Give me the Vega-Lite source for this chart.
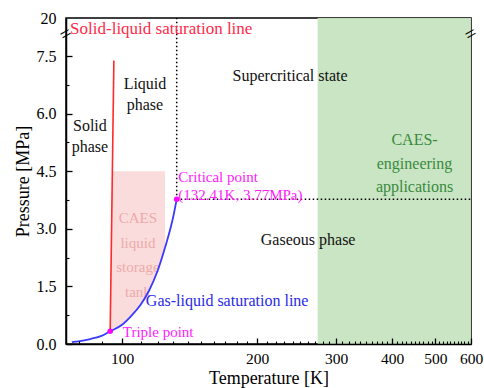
{
  "$schema": "https://vega.github.io/schema/vega-lite/v6.json",
  "width": 405,
  "height": 326,
  "autosize": {"type": "none"},
  "padding": {"left": 66, "top": 18, "right": 13, "bottom": 44},
  "background": "white",
  "config": {
    "font": "Liberation Serif",
    "view": {"stroke": "black", "strokeWidth": 1.5, "fill": "transparent"},
    "axis": {
      "grid": false,
      "domainColor": "black",
      "domainWidth": 1.5,
      "tickColor": "black",
      "tickWidth": 1.2,
      "labelFont": "Liberation Serif",
      "labelFontSize": 16,
      "labelColor": "black",
      "titleFont": "Liberation Serif",
      "titleFontSize": 18,
      "titleFontWeight": "normal",
      "titleColor": "black"
    },
    "text": {"font": "Liberation Serif", "fontSize": 16}
  },
  "datasets": {
    "caes_engineering": [{"T": 273, "T2": 600, "P": 0, "P2": 20}],
    "liquid_tank": [
      {"P": 0.33, "T": 94.1, "T2": 94.1},
      {"P": 0.5, "T": 94.14, "T2": 100},
      {"P": 0.74, "T": 94.2, "T2": 105},
      {"P": 1.02, "T": 94.28, "T2": 110},
      {"P": 1.4, "T": 94.37, "T2": 115},
      {"P": 1.9, "T": 94.5, "T2": 120},
      {"P": 2.5, "T": 94.65, "T2": 124.7},
      {"P": 4.5, "T": 95.15, "T2": 124.7}
    ],
    "critical_isotherm": [{"T": 132.41, "P": 3.77, "P2": 20}],
    "critical_isobar": [{"T": 132.41, "T2": 600, "P": 3.77}],
    "solid_liquid": [
      {"T": 94.1, "P": 0.33},
      {"T": 95.9, "P": 7.38}
    ],
    "gas_liquid": [
      {"T": 77.3, "P": 0.05},
      {"T": 80, "P": 0.07},
      {"T": 85, "P": 0.13},
      {"T": 90, "P": 0.21},
      {"T": 94.1, "P": 0.33},
      {"T": 100, "P": 0.5},
      {"T": 105, "P": 0.74},
      {"T": 110, "P": 1.02},
      {"T": 115, "P": 1.4},
      {"T": 120, "P": 1.9},
      {"T": 125, "P": 2.55},
      {"T": 130, "P": 3.3},
      {"T": 132.41, "P": 3.77}
    ],
    "special_points": [
      {"name": "triple", "T": 94.1, "P": 0.33},
      {"name": "critical", "T": 132.41, "P": 3.77}
    ],
    "phase_labels": [
      {"T": 84.8, "P": 5.69, "label": "Solid\nphase"},
      {"T": 112.5, "P": 6.76, "label": "Liquid\nphase"},
      {"T": 237, "P": 6.99, "label": "Supercritical state"},
      {"T": 260, "P": 2.7, "label": "Gaseous phase"}
    ],
    "solid_liquid_label": [{"T": 76.6, "P": 16.4, "label": "Solid-liquid saturation line"}],
    "gas_liquid_label": [{"T": 113, "P": 1.12, "label": "Gas-liquid saturation line"}],
    "point_labels": [
      {"T": 133.5, "P": 4.34, "label": "Critical point\n(132.41K, 3.77MPa)"},
      {"T": 100.4, "P": 0.31, "label": "Triple point"}
    ],
    "caes_label": [{"T": 449, "P": 5.3, "label": "CAES-\nengineering\napplications"}],
    "tank_label": [{"T": 108.5, "P": 3.28, "label": "CAES\nliquid\nstorage\ntank"}],
    "axis_breaks": [
      {"T": 75, "P": 14.7},
      {"T": 600, "P": 14.7}
    ]
  },
  "resolve": {"axis": {"x": "independent", "y": "independent"}},
  "layer": [
    {
      "encoding": {
        "x": {
          "field": "T",
          "type": "quantitative",
          "scale": {"type": "log", "domain": [75, 600], "nice": false},
          "axis": {
            "orient": "bottom",
            "zindex": 3,
            "title": "Temperature [K]",
            "values": [100, 200, 300, 400, 500, 600],
            "format": "d",
            "ticks": false,
            "labelPadding": 7,
            "labelFontSize": 15.5,
            "labelOverlap": false,
            "labelFlush": false,
            "titleBaseline": "bottom",
            "titleY": 43
          }
        },
        "y": {
          "field": "P",
          "type": "quantitative",
          "scale": {"domain": [0, 7.5, 20], "range": [326, 38, 0], "nice": false, "zero": false},
          "axis": {
            "orient": "left",
            "zindex": 3,
            "title": "Pressure [MPa]",
            "values": [0, 1.5, 3, 4.5, 6, 7.5, 20],
            "labelExpr": "datum.value === 20 ? '20' : format(datum.value, '.1f')",
            "ticks": false,
            "labelPadding": 10,
            "labelOverlap": false,
            "labelFlush": false,
            "titlePadding": 4
          }
        }
      },
      "layer": [
        {
          "data": {"name": "caes_engineering"},
          "mark": {"type": "rect", "fill": "#c6e4c0", "opacity": 0.95},
          "encoding": {"x2": {"field": "T2"}, "y2": {"field": "P2"}}
        },
        {
          "data": {"name": "liquid_tank"},
          "mark": {"type": "area", "orient": "horizontal", "fill": "#f6c4c4", "opacity": 0.6},
          "encoding": {"x2": {"field": "T2"}}
        },
        {
          "data": {"name": "tank_label"},
          "mark": {"type": "text", "font": "Liberation Serif", "align": "center", "baseline": "middle", "lineBreak": "\n", "lineHeight": 24.5, "fontSize": 15, "color": "#e89a9a", "opacity": 0.75},
          "encoding": {"text": {"field": "label"}}
        },
        {
          "data": {"name": "critical_isotherm"},
          "mark": {"type": "rule", "color": "black", "strokeWidth": 1.5, "strokeDash": [1.5, 2.5]},
          "encoding": {"y2": {"field": "P2"}}
        },
        {
          "data": {"name": "critical_isobar"},
          "mark": {"type": "rule", "color": "black", "strokeWidth": 1.5, "strokeDash": [1.5, 2.5]},
          "encoding": {"x2": {"field": "T2"}}
        },
        {
          "data": {"name": "solid_liquid"},
          "mark": {"type": "line", "color": "#ff2a2a", "strokeWidth": 1.6},
          "encoding": {"order": {"field": "P"}}
        },
        {
          "data": {"name": "gas_liquid"},
          "mark": {"type": "line", "color": "#3a3aff", "strokeWidth": 1.8, "interpolate": "monotone"},
          "encoding": {}
        },
        {
          "data": {"name": "special_points"},
          "mark": {"type": "circle", "color": "#ff00ff", "size": 30, "opacity": 1},
          "encoding": {}
        },
        {
          "data": {"name": "phase_labels"},
          "mark": {"type": "text", "font": "Liberation Serif", "align": "center", "baseline": "middle", "lineBreak": "\n", "lineHeight": 21, "fontSize": 16, "color": "#111111"},
          "encoding": {"text": {"field": "label"}}
        },
        {
          "data": {"name": "solid_liquid_label"},
          "mark": {"type": "text", "font": "Liberation Serif", "align": "left", "baseline": "middle", "fontSize": 17, "color": "#ff2a4a"},
          "encoding": {"text": {"field": "label"}}
        },
        {
          "data": {"name": "gas_liquid_label"},
          "mark": {"type": "text", "font": "Liberation Serif", "align": "left", "baseline": "middle", "fontSize": 16, "color": "#2a2ae6"},
          "encoding": {"text": {"field": "label"}}
        },
        {
          "data": {"name": "point_labels"},
          "mark": {"type": "text", "font": "Liberation Serif", "align": "left", "baseline": "middle", "lineBreak": "\n", "lineHeight": 18, "fontSize": 15, "color": "#ff22ff"},
          "encoding": {"text": {"field": "label"}}
        },
        {
          "data": {"name": "caes_label"},
          "mark": {"type": "text", "font": "Liberation Serif", "align": "center", "baseline": "middle", "lineBreak": "\n", "lineHeight": 23.5, "fontSize": 16, "color": "#3a8a3e"},
          "encoding": {"text": {"field": "label"}}
        },
        {
          "data": {"name": "axis_breaks"},
          "mark": {"type": "text", "font": "Liberation Serif", "text": "=", "align": "center", "baseline": "middle", "fontSize": 20, "angle": -30, "color": "black"},
          "encoding": {}
        }
      ]
    },
    {
      "data": {"name": "special_points"},
      "mark": {"type": "point", "opacity": 0},
      "encoding": {
        "x": {
          "field": "T",
          "type": "quantitative",
          "scale": {"type": "log", "domain": [75, 600], "nice": false},
          "axis": {
            "orient": "bottom",
            "zindex": 3,
            "title": null,
            "values": [100, 200, 300, 400, 500, 600],
            "labels": false,
            "domain": false,
            "offset": -6,
            "tickSize": 6,
            "tickWidth": 1.3
          }
        },
        "y": {
          "field": "P",
          "type": "quantitative",
          "scale": {"domain": [0, 7.5, 20], "range": [326, 38, 0], "nice": false, "zero": false},
          "axis": {
            "orient": "left",
            "zindex": 3,
            "title": null,
            "values": [0, 1.5, 3, 4.5, 6, 7.5],
            "labels": false,
            "domain": false,
            "offset": -6,
            "tickSize": 6,
            "tickWidth": 1.3
          }
        }
      }
    },
    {
      "data": {"name": "special_points"},
      "mark": {"type": "point", "opacity": 0},
      "encoding": {
        "x": {
          "field": "T",
          "type": "quantitative",
          "scale": {"type": "log", "domain": [75, 600], "nice": false},
          "axis": {
            "orient": "bottom",
            "zindex": 3,
            "title": null,
            "values": [80, 90, 110, 120, 130, 140, 150, 160, 170, 180, 190, 210, 220, 230, 240, 250, 260, 270, 280, 290, 310, 320, 330, 340, 350, 360, 370, 380, 390, 410, 420, 430, 440, 450, 460, 470, 480, 490, 510, 520, 530, 540, 550, 560, 570, 580, 590],
            "labels": false,
            "domain": false,
            "offset": -3,
            "tickSize": 3,
            "tickWidth": 1.1
          }
        },
        "y": {
          "field": "P",
          "type": "quantitative",
          "scale": {"domain": [0, 7.5, 20], "range": [326, 38, 0], "nice": false, "zero": false},
          "axis": {
            "orient": "left",
            "zindex": 3,
            "title": null,
            "values": [0.75, 2.25, 3.75, 5.25, 6.75],
            "labels": false,
            "domain": false,
            "offset": -3,
            "tickSize": 3,
            "tickWidth": 1.1
          }
        }
      }
    }
  ]
}
